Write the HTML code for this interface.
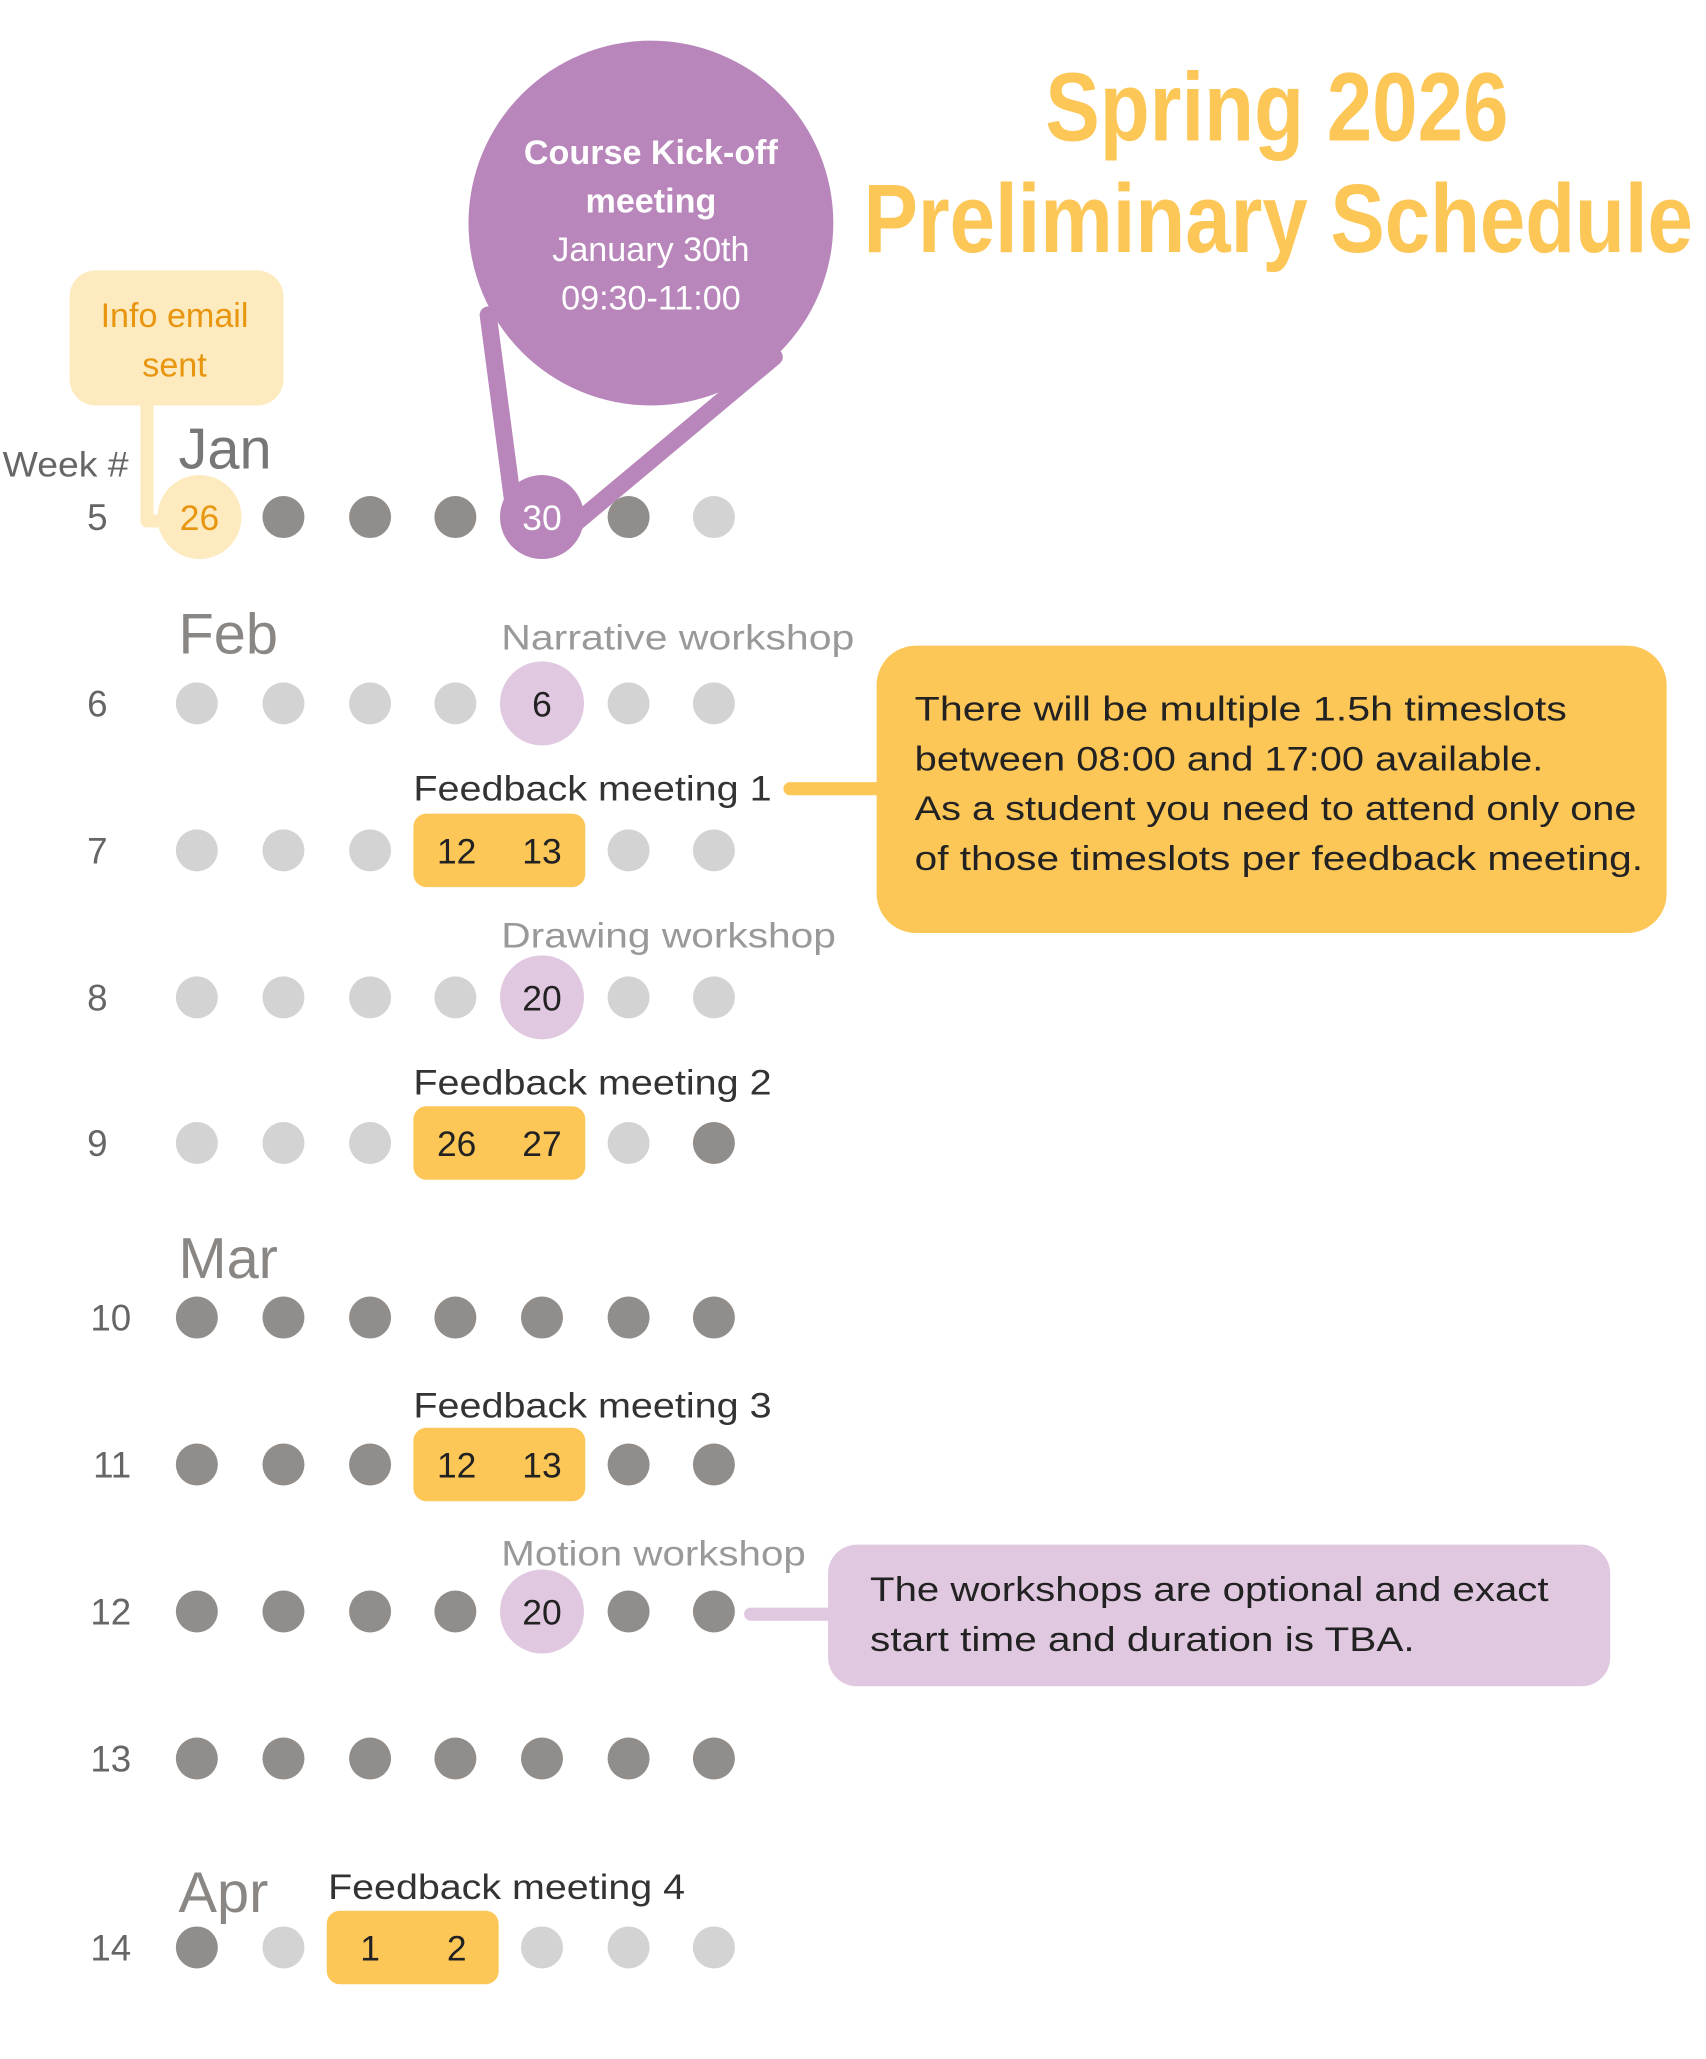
<!DOCTYPE html>
<html><head><meta charset="utf-8"><style>
html,body{margin:0;padding:0;background:#fff;}
svg{display:block;}
text{font-family:"Liberation Sans",sans-serif;}
</style></head><body>
<svg width="1706" height="2059" viewBox="0 0 1300 1569" xmlns="http://www.w3.org/2000/svg">
<rect width="1300" height="1569" fill="#fff"/>
<text x="973" y="107" text-anchor="middle" font-size="74" font-weight="bold" fill="#fdc757" textLength="353" lengthAdjust="spacingAndGlyphs">Spring 2026</text>
<text x="974" y="192" text-anchor="middle" font-size="74" font-weight="bold" fill="#fdc757" textLength="632" lengthAdjust="spacingAndGlyphs">Preliminary Schedule</text>

<polyline points="112,305 112,397 128,397" fill="none" stroke="#fdeabf" stroke-width="10" stroke-linejoin="round"/>
<rect x="53" y="206" width="163" height="103" rx="20" fill="#fdeabf"/>
<text x="133" y="249" text-anchor="middle" font-size="26" fill="#e8960f">Info email</text>
<text x="133" y="287" text-anchor="middle" font-size="26" fill="#e8960f">sent</text>

<polyline points="372,240 392,392" fill="none" stroke="#b886bb" stroke-width="13" stroke-linecap="round"/>
<polyline points="590,272 437,400" fill="none" stroke="#b886bb" stroke-width="13" stroke-linecap="round"/>
<circle cx="496" cy="170" r="139" fill="#b886bb"/>
<text x="496" y="125" text-anchor="middle" font-size="26" font-weight="bold" fill="#fff">Course Kick-off</text>
<text x="496" y="162" text-anchor="middle" font-size="26" font-weight="bold" fill="#fff">meeting</text>
<text x="496" y="199" text-anchor="middle" font-size="26" fill="#fff">January 30th</text>
<text x="496" y="236" text-anchor="middle" font-size="26" fill="#fff">09:30-11:00</text>

<text x="2" y="363" font-size="27" fill="#666" textLength="96" lengthAdjust="spacingAndGlyphs">Week #</text>
<g font-size="28" fill="#666" text-anchor="end">
<text x="82" y="404">5</text><text x="82" y="546">6</text><text x="82" y="658">7</text><text x="82" y="770">8</text><text x="82" y="881">9</text><text x="100" y="1014">10</text><text x="100" y="1126">11</text><text x="100" y="1238">12</text><text x="100" y="1350">13</text><text x="100" y="1494">14</text>
</g>
<g font-size="44" fill="#8a8684">
<text x="136" y="357" fill="#777">Jan</text><text x="136" y="498">Feb</text><text x="136" y="974">Mar</text><text x="136" y="1457">Apr</text>
</g>

<g font-size="27" lengthAdjust="spacingAndGlyphs">
<text x="382" y="495" fill="#999" textLength="269" lengthAdjust="spacingAndGlyphs">Narrative workshop</text>
<text x="315" y="610" fill="#333" textLength="273" lengthAdjust="spacingAndGlyphs">Feedback meeting 1</text>
<text x="382" y="722" fill="#999" textLength="255" lengthAdjust="spacingAndGlyphs">Drawing workshop</text>
<text x="315" y="834" fill="#333" textLength="273" lengthAdjust="spacingAndGlyphs">Feedback meeting 2</text>
<text x="315" y="1080" fill="#333" textLength="273" lengthAdjust="spacingAndGlyphs">Feedback meeting 3</text>
<text x="382" y="1193" fill="#999" textLength="232" lengthAdjust="spacingAndGlyphs">Motion workshop</text>
<text x="250" y="1447" fill="#333" textLength="272" lengthAdjust="spacingAndGlyphs">Feedback meeting 4</text>
</g>

<g>
<circle cx="216" cy="394" r="16" fill="#918d8a"/><circle cx="282" cy="394" r="16" fill="#918d8a"/><circle cx="347" cy="394" r="16" fill="#918d8a"/><circle cx="479" cy="394" r="16" fill="#918d8a"/><circle cx="544" cy="394" r="16" fill="#d3d3d3"/>
<circle cx="152" cy="394" r="32" fill="#fdeabf"/>
<circle cx="413" cy="394" r="32" fill="#b886bb"/>
<circle cx="150" cy="536" r="16" fill="#d3d3d3"/><circle cx="216" cy="536" r="16" fill="#d3d3d3"/><circle cx="282" cy="536" r="16" fill="#d3d3d3"/><circle cx="347" cy="536" r="16" fill="#d3d3d3"/><circle cx="479" cy="536" r="16" fill="#d3d3d3"/><circle cx="544" cy="536" r="16" fill="#d3d3d3"/>
<circle cx="413" cy="536" r="32" fill="#e0c8e0"/>
<circle cx="150" cy="648" r="16" fill="#d3d3d3"/><circle cx="216" cy="648" r="16" fill="#d3d3d3"/><circle cx="282" cy="648" r="16" fill="#d3d3d3"/><circle cx="479" cy="648" r="16" fill="#d3d3d3"/><circle cx="544" cy="648" r="16" fill="#d3d3d3"/>
<rect x="315" y="620" width="131" height="56" rx="10" fill="#fdc757"/>
<circle cx="150" cy="760" r="16" fill="#d3d3d3"/><circle cx="216" cy="760" r="16" fill="#d3d3d3"/><circle cx="282" cy="760" r="16" fill="#d3d3d3"/><circle cx="347" cy="760" r="16" fill="#d3d3d3"/><circle cx="479" cy="760" r="16" fill="#d3d3d3"/><circle cx="544" cy="760" r="16" fill="#d3d3d3"/>
<circle cx="413" cy="760" r="32" fill="#e0c8e0"/>
<circle cx="150" cy="871" r="16" fill="#d3d3d3"/><circle cx="216" cy="871" r="16" fill="#d3d3d3"/><circle cx="282" cy="871" r="16" fill="#d3d3d3"/><circle cx="479" cy="871" r="16" fill="#d3d3d3"/><circle cx="544" cy="871" r="16" fill="#918d8a"/>
<rect x="315" y="843" width="131" height="56" rx="10" fill="#fdc757"/>
<circle cx="150" cy="1004" r="16" fill="#918d8a"/><circle cx="216" cy="1004" r="16" fill="#918d8a"/><circle cx="282" cy="1004" r="16" fill="#918d8a"/><circle cx="347" cy="1004" r="16" fill="#918d8a"/><circle cx="413" cy="1004" r="16" fill="#918d8a"/><circle cx="479" cy="1004" r="16" fill="#918d8a"/><circle cx="544" cy="1004" r="16" fill="#918d8a"/>
<circle cx="150" cy="1116" r="16" fill="#918d8a"/><circle cx="216" cy="1116" r="16" fill="#918d8a"/><circle cx="282" cy="1116" r="16" fill="#918d8a"/><circle cx="479" cy="1116" r="16" fill="#918d8a"/><circle cx="544" cy="1116" r="16" fill="#918d8a"/>
<rect x="315" y="1088" width="131" height="56" rx="10" fill="#fdc757"/>
<circle cx="150" cy="1228" r="16" fill="#918d8a"/><circle cx="216" cy="1228" r="16" fill="#918d8a"/><circle cx="282" cy="1228" r="16" fill="#918d8a"/><circle cx="347" cy="1228" r="16" fill="#918d8a"/><circle cx="479" cy="1228" r="16" fill="#918d8a"/><circle cx="544" cy="1228" r="16" fill="#918d8a"/>
<circle cx="413" cy="1228" r="32" fill="#e0c8e0"/>
<circle cx="150" cy="1340" r="16" fill="#918d8a"/><circle cx="216" cy="1340" r="16" fill="#918d8a"/><circle cx="282" cy="1340" r="16" fill="#918d8a"/><circle cx="347" cy="1340" r="16" fill="#918d8a"/><circle cx="413" cy="1340" r="16" fill="#918d8a"/><circle cx="479" cy="1340" r="16" fill="#918d8a"/><circle cx="544" cy="1340" r="16" fill="#918d8a"/>
<circle cx="150" cy="1484" r="16" fill="#918d8a"/><circle cx="216" cy="1484" r="16" fill="#d3d3d3"/><circle cx="413" cy="1484" r="16" fill="#d3d3d3"/><circle cx="479" cy="1484" r="16" fill="#d3d3d3"/><circle cx="544" cy="1484" r="16" fill="#d3d3d3"/>
<rect x="249" y="1456" width="131" height="56" rx="10" fill="#fdc757"/>
</g>

<g font-size="27" text-anchor="middle">
<text x="152" y="404" fill="#e8960f">26</text>
<text x="413" y="404" fill="#fff">30</text>
<text x="413" y="546" fill="#222">6</text>
<text x="348" y="658" fill="#222">12</text><text x="413" y="658" fill="#222">13</text>
<text x="413" y="770" fill="#222">20</text>
<text x="348" y="881" fill="#222">26</text><text x="413" y="881" fill="#222">27</text>
<text x="348" y="1126" fill="#222">12</text><text x="413" y="1126" fill="#222">13</text>
<text x="413" y="1238" fill="#222">20</text>
<text x="282" y="1494" fill="#222">1</text><text x="348" y="1494" fill="#222">2</text>
</g>

<line x1="602" y1="601" x2="670" y2="601" stroke="#fdc757" stroke-width="10" stroke-linecap="round"/>
<rect x="668" y="492" width="602" height="219" rx="30" fill="#fdc757"/>
<g font-size="26" fill="#222">
<text x="697" y="549" textLength="497" lengthAdjust="spacingAndGlyphs">There will be multiple 1.5h timeslots</text>
<text x="697" y="587" textLength="479" lengthAdjust="spacingAndGlyphs">between 08:00 and 17:00 available.</text>
<text x="697" y="625" textLength="550" lengthAdjust="spacingAndGlyphs">As a student you need to attend only one</text>
<text x="697" y="663" textLength="555" lengthAdjust="spacingAndGlyphs">of those timeslots per feedback meeting.</text>
</g>

<line x1="572" y1="1230" x2="635" y2="1230" stroke="#e0c8e0" stroke-width="10" stroke-linecap="round"/>
<rect x="631" y="1177" width="596" height="108" rx="22" fill="#e0c8e0"/>
<g font-size="26" fill="#222">
<text x="663" y="1220" textLength="517" lengthAdjust="spacingAndGlyphs">The workshops are optional and exact</text>
<text x="663" y="1258" textLength="415" lengthAdjust="spacingAndGlyphs">start time and duration is TBA.</text>
</g>
</svg>
</body></html>
